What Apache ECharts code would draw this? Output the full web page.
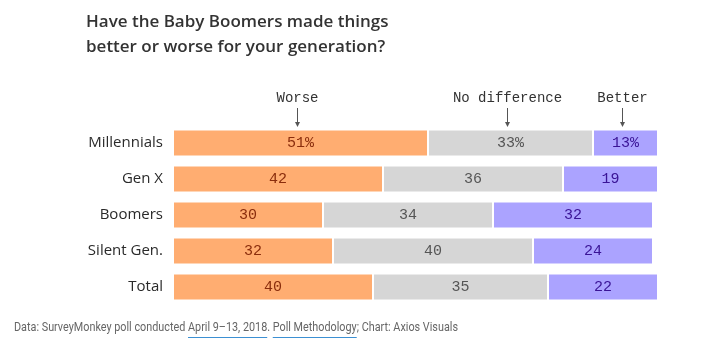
<!DOCTYPE html>
<html><head><meta charset="utf-8">
<script src="https://cdn.jsdelivr.net/npm/echarts@6/dist/echarts.min.js"></script>
<style>html,body{margin:0;padding:0;background:#fff}#c{width:702px;height:352px}</style>
</head><body><div id="c"></div>
<script>
const categories = ['Millennials', 'Gen X', 'Boomers', 'Silent Gen.', 'Total'];
const worse = [51, 42, 30, 32, 40];
const noDifference = [33, 36, 34, 40, 35];
const better = [13, 19, 32, 24, 22];
const seriesNames = ['Worse', 'No difference', 'Better'];
const titleLines = ['Have the Baby Boomers made things', 'better or worse for your generation?'];

const SANS = '"Open Sans", "Noto Sans", sans-serif';
const MONO = '"Liberation Mono", "DejaVu Sans Mono", monospace';
const colors = ['#FFAD71', '#D6D6D6', '#ABA3FF'];
const labelColors = ['#8A2D0C', '#555555', '#3A1496'];

const chart = echarts.init(document.getElementById('c'), null, {renderer: 'canvas'});
const fmt = p => p.dataIndex === 0 ? p.value + '%' : String(p.value);
const mk = (name, data, i) => ({
  name, type: 'bar', stack: 'all', data, barWidth: 27,
  itemStyle: {color: colors[i], borderColor: '#fff', borderWidth: 1},
  label: {show: true, position: 'inside', formatter: fmt, color: labelColors[i],
          fontFamily: MONO, fontSize: 15},
  emphasis: {disabled: true}
});
chart.setOption({
  animation: false,
  grid: {left: 173, right: 29, top: 125, height: 180},
  xAxis: {type: 'value', min: 0, max: 100, show: false},
  yAxis: {type: 'category', data: categories, inverse: true,
    axisLine: {show: false}, axisTick: {show: false},
    axisLabel: {color: '#2a2a2a', fontFamily: SANS, fontSize: 15, margin: 10}},
  series: [mk(seriesNames[0], worse, 0), mk(seriesNames[1], noDifference, 1), mk(seriesNames[2], better, 2)]
});

// annotations above first row
const sets = [worse, noDifference, better];
const els = [];
let cum = 0;
sets.forEach((arr, i) => {
  const mid = cum + arr[0] / 2; cum += arr[0];
  const p = chart.convertToPixel({gridIndex: 0}, [mid, categories[0]]);
  const x = Math.round(p[0]) - 3.5;
  els.push({type: 'text', style: {text: seriesNames[i], x: x, y: 98, align: 'center', verticalAlign: 'middle',
    font: '14px ' + MONO, fill: '#333'}});
  els.push({type: 'line', shape: {x1: x, y1: 108, x2: x, y2: 126}, style: {stroke: '#555', lineWidth: 1}});
  els.push({type: 'polygon', shape: {points: [[x - 2.5, 122], [x + 2.5, 122], [x, 127]]}, style: {fill: '#555'}});
});
// title
titleLines.forEach((t, i) => {
  els.push({type: 'text', style: {text: t, x: 86, y: 22 + i * 25, verticalAlign: 'middle',
    font: '600 17px ' + SANS, fill: '#333'}});
});
// footer (condensed look via horizontal scale)
const FOOT = 'Roboto, "Noto Sans", sans-serif';
const parts = [
  ['Data: SurveyMonkey poll conducted ', false], ['April 9–13, 2018', true], ['. ', false],
  ['Poll Methodology', true], ['; Chart: Axios Visuals', false]
];
const footFont = '13px ' + FOOT;
const ctx = document.createElement('canvas').getContext('2d');
ctx.font = footFont;
const full = ctx.measureText(parts.map(p => p[0]).join('')).width;
const sx = Math.min(1, 444 / full);
const kids = [];
let fx = 0;
parts.forEach(([t, link]) => {
  const w = ctx.measureText(t).width;
  kids.push({type: 'text', style: {text: t, x: fx, y: 328, verticalAlign: 'middle', font: footFont, fill: '#666'}});
  if (link) kids.push({type: 'line', shape: {x1: fx, y1: 337.5, x2: fx + w, y2: 337.5}, style: {stroke: '#2A86CF', lineWidth: 1}});
  fx += w;
});
els.push({type: 'group', x: 14, y: 0, scaleX: sx, children: kids});
chart.setOption({graphic: {elements: els}});
</script></body></html>
